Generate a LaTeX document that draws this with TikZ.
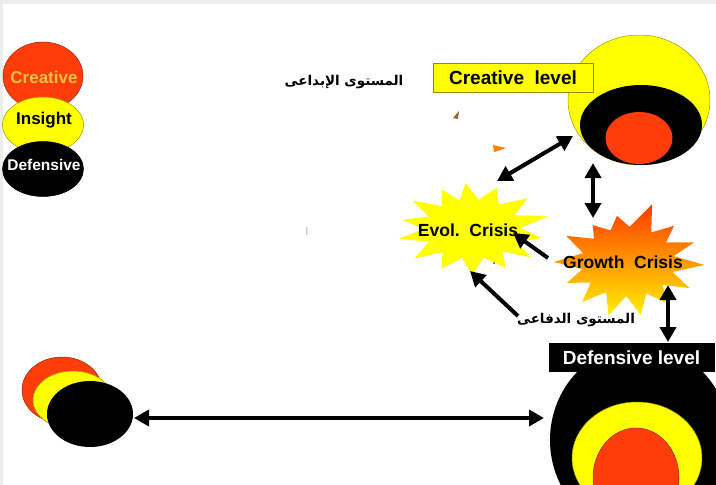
\documentclass[tikz,border=0pt]{standalone}
\usepackage{fontspec}
\setmainfont{Liberation Sans}
\newfontfamily\arabicfont[Script=Arabic]{DejaVu Sans}
\TeXXeTstate=1
\usetikzlibrary{shapes.geometric,arrows.meta}
\definecolor{cred}{HTML}{FF3D0A}
\definecolor{cyel}{HTML}{FFFF00}
\definecolor{corange}{HTML}{F9C043}
\definecolor{colive}{HTML}{9A8A00}
\definecolor{growA}{HTML}{FF3A00}
\definecolor{growB}{HTML}{FF9A00}
\definecolor{growC}{HTML}{FFF000}
\tikzset{
  disc/.style={ellipse, inner sep=0pt, fill=#1, draw=#1!60!black, line width=0.5pt},
  legtext/.style={font=\bfseries\fontsize{17}{17}\selectfont, inner sep=0pt},
  twoway/.style={line width=4pt, {Triangle[length=15pt,width=16pt]}-{Triangle[length=15pt,width=16pt]}},
  oneway/.style={line width=4pt, -{Triangle[length=15pt,width=16pt]}},
  levelbox/.style={rectangle, minimum height=29pt, inner sep=0pt, font=\bfseries\fontsize{19}{19}\selectfont},
  startext/.style={font=\bfseries\fontsize{17.5}{17.5}\selectfont, inner sep=0pt},
  artext/.style={font=\arabicfont\bfseries\fontsize{13.5}{13.5}\selectfont, inner sep=0pt, text=black},
}
\begin{document}
\begin{tikzpicture}[x=1pt,y=-1pt]
\useasboundingbox (0,0) rectangle (716,485);
\clip (0,0) rectangle (716,485);
\fill[white] (0,0) rectangle (716,485);
\fill[black!7] (0,0) rectangle (716,4);
\fill[black!7] (0,0) rectangle (3,485);

% legend
\node[disc=cred, minimum width=80pt, minimum height=68pt] (lr) at (43,76) {};
\node[disc=cyel, minimum width=81pt, minimum height=56pt] (ly) at (43,125) {};
\node[disc=black, minimum width=81pt, minimum height=55pt] (lb) at (43,169) {};
\node[legtext, text=corange] (tcr) at (44,77) {Creative};
\node[legtext, text=black] (tin) at (44,120) {Insight};
\node[legtext, text=white, font=\bfseries\fontsize{15.5}{15.5}\selectfont] (tde) at (44,165) {Defensive};

% top-right creative circles
\node[disc=cyel, minimum width=142pt, minimum height=130pt] (cy) at (639,100) {};
\node[ellipse, inner sep=0pt, fill=black, minimum width=122pt, minimum height=80pt] (cb) at (641,125) {};
\node[ellipse, inner sep=0pt, fill=cred, minimum width=67pt, minimum height=52pt] (cr) at (639,138) {};
\node[levelbox, fill=cyel, draw=colive, line width=1pt, minimum width=160pt] (clevel) at (513,77.5) {Creative~~level};

% bottom-right defensive circles
\node[ellipse, inner sep=0pt, fill=black, minimum width=180pt, minimum height=190pt] (db) at (640,440) {};
\node[disc=cyel, minimum width=130pt, minimum height=112pt] (dy) at (637,458) {};
\node[disc=cred, minimum width=86pt, minimum height=100pt] (dr) at (636,478) {};
\node[levelbox, fill=black, text=white, minimum width=166pt] (dlevel) at (631.5,357.5) {Defensive level};

% bottom-left circles
\node[disc=cred, minimum width=80pt, minimum height=66pt] (br) at (62,390) {};
\node[disc=cyel, minimum width=80pt, minimum height=58pt] (by) at (73,400) {};
\node[ellipse, inner sep=0pt, fill=black, minimum width=86pt, minimum height=66pt] (bb) at (90,414) {};

% Evol crisis star
\fill[cyel] [shift={(472,229)}, xscale=75, yscale=46]
  (-95:1) -- (-82:0.64) -- (-70:0.95) -- (-56:0.64) -- (-42:1) -- (-28:0.64) -- (-15:1.05) -- (-2:0.64)
  -- (12:0.95) -- (25:0.64) -- (38:1) -- (50:0.64) -- (62:0.95) -- (76:0.64) -- (90:1) -- (102:0.64)
  -- (115:0.95) -- (128:0.64) -- (140:1) -- (154:0.64) -- (168:1) -- (180:0.64) -- (192:0.95) -- (205:0.64)
  -- (218:1) -- (231:0.64) -- (245:0.95) -- (255:0.64) -- cycle;
\node[startext] (evol) at (468,230) {Evol.~~Crisis};

% Growth crisis star
\shade[top color=growA, middle color=growB, bottom color=growC] [shift={(628,262)}, xscale=75, yscale=55]
  (-73:1.1) -- (-88:0.64) -- (-100:0.85) -- (-112:0.62) -- (-125:0.82) -- (-137:0.62) -- (-150:0.95) -- (-165:0.62)
  -- (180:0.99) -- (168:0.62) -- (155:0.9) -- (143:0.62) -- (130:0.95) -- (118:0.62) -- (105:1.0) -- (92:0.62)
  -- (80:0.98) -- (67:0.62) -- (55:0.92) -- (42:0.62) -- (30:0.95) -- (17:0.62) -- (3:1.02) -- (-10:0.62)
  -- (-22:0.95) -- (-35:0.62) -- (-47:0.9) -- (-60:0.62) -- cycle;
\node[startext] (growth) at (623,262) {Growth~~Crisis};

% arabic labels
\node[artext] (arcre) at (344,82) {\beginR المستوى الإبداعى\endR};
\node[artext] (ardef) at (576,320) {\beginR المستوى الدفاعى\endR};

% connector end points
\coordinate (e1) at (497,181);
\coordinate (c1) at (573,136);
\coordinate (c2) at (593,163);
\coordinate (g2) at (593,218);
\coordinate (g3) at (548,258);
\coordinate (e3) at (513,233);
\coordinate (a4) at (518,316);
\coordinate (e4) at (470,271);
\coordinate (g5) at (668,285);
\coordinate (d5) at (668,342);
\coordinate (b6) at (134,418);
\coordinate (d6) at (544,418);

\draw[twoway] (e1) -- (c1);
\draw[twoway] (c2) -- (g2);
\draw[oneway] (g3) -- (e3);
\draw[oneway] (a4) -- (e4);
\draw[twoway] (g5) -- (d5);
\draw[twoway] (b6) -- (d6);

% small stray marks
\fill[brown!80!black] (453,118) -- (459,111) -- (458,119) -- cycle;
\fill[orange] (493,145) -- (506,148) -- (494,152) -- cycle;
\fill[black!70] (494,263) circle (1pt);
\node[font=\arabicfont\fontsize{8}{8}\selectfont, text=black!40, inner sep=0pt] (stray) at (307,232) {\beginR أ\endR};
\end{tikzpicture}
\end{document}
